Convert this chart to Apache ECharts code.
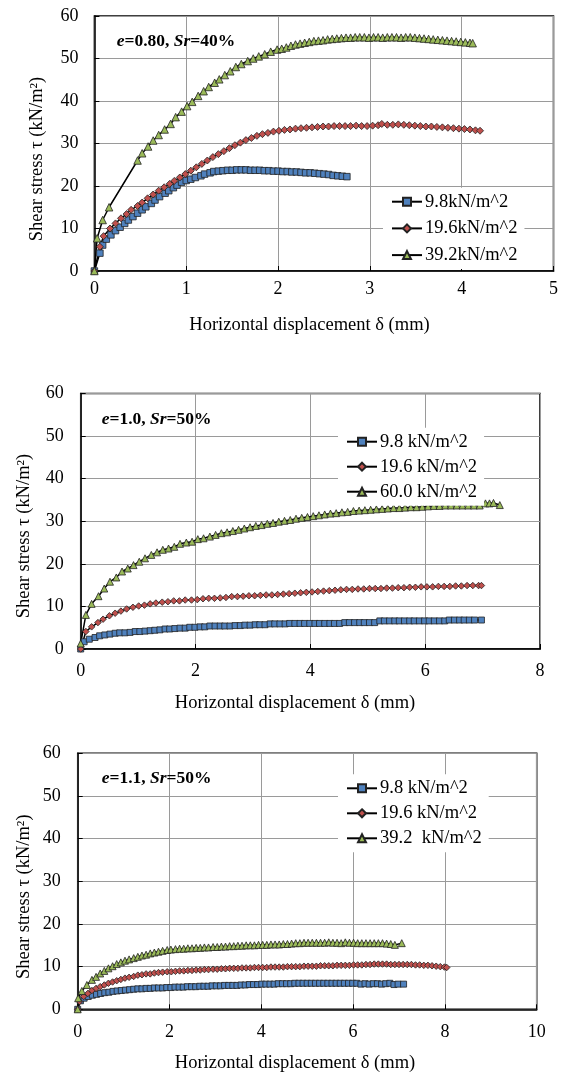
<!DOCTYPE html>
<html>
<head>
<meta charset="utf-8">
<script src="https://cdn.jsdelivr.net/npm/echarts@6/dist/echarts.min.js"></script>
<style>
html,body{margin:0;padding:0;background:#fff;}
#main{width:561px;height:1075px;}
</style>
</head>
<body>
<div id="main"></div>
<script>
// ---------- Data ----------
const c1Names = ['9.8kN/m^2', '19.6kN/m^2', '39.2kN/m^2'];
const c2Names = ['9.8 kN/m^2', '19.6 kN/m^2', '60.0 kN/m^2'];
const c3Names = ['9.8 kN/m^2', '19.6 kN/m^2', '39.2  kN/m^2'];

const c1Notes = ['0.80', '40%'];
const c2Notes = ['1.0', '50%'];
const c3Notes = ['1.1', '50%'];

const yTitle = 'Shear stress \u03c4 (kN/m\u00b2)';
const xTitle = 'Horizontal displacement \u03b4 (mm)';

// Chart 1: e=0.80, Sr=40%
const c1Blue = [[0,0],[0.06,4.2],[0.09,6.1],[0.13,7.5],[0.18,8.5],[0.23,9.5],[0.28,10.3],[0.33,11.2],[0.37,12.0],[0.42,12.8],[0.47,13.6],[0.52,14.4],[0.56,15.1],[0.62,15.9],[0.66,16.7],[0.71,17.5],[0.77,18.3],[0.81,18.9],[0.86,19.6],[0.90,20.2],[0.95,20.9],[1.00,21.3],[1.05,21.6],[1.10,22.0],[1.16,22.4],[1.20,22.8],[1.26,23.1],[1.30,23.4],[1.35,23.5],[1.40,23.6],[1.45,23.7],[1.50,23.7],[1.55,23.8],[1.60,23.8],[1.65,23.8],[1.70,23.7],[1.75,23.7],[1.80,23.7],[1.85,23.6],[1.90,23.6],[1.95,23.5],[2.00,23.5],[2.05,23.4],[2.10,23.4],[2.15,23.3],[2.20,23.3],[2.25,23.2],[2.30,23.1],[2.35,23.1],[2.40,23.0],[2.45,22.9],[2.50,22.8],[2.55,22.7],[2.60,22.5],[2.65,22.4],[2.70,22.3],[2.75,22.2]];
const c1Red = [[0,0],[0.06,5.7],[0.10,8.2],[0.17,10.0],[0.23,11.2],[0.29,12.4],[0.35,13.4],[0.40,14.4],[0.47,15.3],[0.52,16.1],[0.58,17.1],[0.64,18.0],[0.70,18.9],[0.76,19.7],[0.82,20.5],[0.87,21.2],[0.93,22.0],[0.99,22.8],[1.05,23.6],[1.11,24.4],[1.17,25.2],[1.23,26.0],[1.29,26.8],[1.35,27.5],[1.41,28.2],[1.47,28.9],[1.53,29.6],[1.59,30.2],[1.65,30.8],[1.71,31.3],[1.77,31.8],[1.83,32.2],[1.89,32.5],[1.95,32.8],[2.01,33.0],[2.07,33.2],[2.13,33.3],[2.19,33.5],[2.25,33.6],[2.31,33.7],[2.37,33.8],[2.43,33.9],[2.49,34.0],[2.55,34.0],[2.61,34.1],[2.67,34.1],[2.73,34.1],[2.79,34.1],[2.85,34.2],[2.91,34.1],[2.97,34.1],[3.03,34.2],[3.09,34.3],[3.13,34.6],[3.19,34.4],[3.25,34.4],[3.31,34.5],[3.37,34.4],[3.43,34.3],[3.49,34.2],[3.55,34.1],[3.61,34.0],[3.67,34.0],[3.73,33.9],[3.79,33.8],[3.85,33.7],[3.91,33.6],[3.97,33.5],[4.03,33.4],[4.09,33.3],[4.15,33.1],[4.20,33.0]];
const c1Green = [[0,0],[0.03,7.7],[0.09,12.0],[0.16,15.0],[0.47,26.0],[0.52,27.7],[0.585,29.3],[0.64,30.7],[0.70,32.0],[0.765,33.3],[0.83,34.6],[0.885,36.2],[0.95,37.5],[1.01,38.8],[1.065,39.8],[1.13,41.2],[1.19,42.3],[1.245,43.3],[1.31,44.3],[1.36,45.1],[1.42,46.1],[1.48,47.0],[1.54,48.0],[1.60,48.7],[1.67,49.4],[1.73,50.0],[1.79,50.5],[1.855,51.0],[1.92,51.6],[1.99,52.1],[2.04,52.3],[2.09,52.6],[2.14,53.0],[2.19,53.3],[2.24,53.5],[2.29,53.7],[2.34,53.9],[2.39,54.1],[2.44,54.2],[2.49,54.3],[2.54,54.5],[2.59,54.6],[2.64,54.7],[2.69,54.8],[2.74,54.9],[2.79,54.9],[2.84,55.0],[2.89,55.0],[2.94,55.0],[2.99,54.9],[3.04,55.0],[3.09,55.0],[3.14,54.9],[3.19,55.0],[3.24,55.0],[3.29,55.0],[3.34,54.9],[3.39,55.0],[3.44,55.0],[3.49,54.9],[3.54,54.8],[3.59,54.7],[3.64,54.6],[3.69,54.5],[3.74,54.4],[3.79,54.3],[3.84,54.2],[3.89,54.1],[3.94,54.0],[3.99,53.9],[4.04,53.8],[4.09,53.7],[4.12,53.6]];

// Chart 2: e=1.0, Sr=50%
const c2Blue = [[0,0],[0.06,1.7],[0.15,2.3],[0.25,2.7],[0.33,3.1],[0.42,3.3],[0.51,3.5],[0.60,3.7],[0.68,3.8],[0.77,3.8],[0.86,3.9],[0.95,4.1],[1.03,4.1],[1.12,4.2],[1.21,4.3],[1.29,4.4],[1.38,4.5],[1.47,4.7],[1.55,4.7],[1.64,4.8],[1.73,4.9],[1.82,4.9],[1.90,5.1],[1.99,5.1],[2.08,5.2],[2.16,5.2],[2.25,5.4],[2.34,5.4],[2.43,5.4],[2.51,5.4],[2.60,5.4],[2.69,5.5],[2.78,5.5],[2.86,5.6],[2.95,5.6],[3.04,5.7],[3.12,5.7],[3.21,5.7],[3.30,5.9],[3.38,5.9],[3.47,5.9],[3.56,5.9],[3.64,6.0],[3.73,6.0],[3.82,6.0],[3.90,6.0],[3.99,6.0],[4.08,6.0],[4.16,6.0],[4.25,6.0],[4.34,6.0],[4.42,6.0],[4.51,6.0],[4.60,6.2],[4.68,6.2],[4.77,6.2],[4.86,6.2],[4.94,6.2],[5.03,6.2],[5.12,6.2],[5.21,6.6],[5.29,6.6],[5.38,6.6],[5.47,6.6],[5.55,6.6],[5.64,6.6],[5.73,6.6],[5.81,6.6],[5.90,6.6],[5.99,6.6],[6.07,6.6],[6.16,6.6],[6.25,6.6],[6.34,6.6],[6.42,6.8],[6.51,6.8],[6.60,6.8],[6.68,6.8],[6.77,6.8],[6.86,6.8],[6.98,6.8]];
const c2Red = [[0,0],[0.09,4.1],[0.19,5.2],[0.30,6.2],[0.39,7.0],[0.50,7.8],[0.60,8.4],[0.70,8.9],[0.80,9.4],[0.91,9.8],[1.01,10.1],[1.11,10.3],[1.21,10.6],[1.31,10.8],[1.42,11.0],[1.52,11.1],[1.62,11.3],[1.72,11.3],[1.82,11.5],[1.93,11.5],[2.03,11.6],[2.13,11.8],[2.23,11.9],[2.33,11.9],[2.43,12.0],[2.53,12.1],[2.63,12.3],[2.73,12.3],[2.83,12.4],[2.93,12.5],[3.03,12.5],[3.13,12.6],[3.23,12.7],[3.33,12.7],[3.43,12.8],[3.53,12.9],[3.63,13.0],[3.73,13.1],[3.83,13.2],[3.93,13.3],[4.03,13.4],[4.13,13.5],[4.23,13.6],[4.33,13.7],[4.43,13.8],[4.53,13.9],[4.63,14.0],[4.73,14.0],[4.83,14.1],[4.93,14.1],[5.03,14.2],[5.13,14.2],[5.23,14.2],[5.33,14.3],[5.43,14.3],[5.53,14.4],[5.63,14.4],[5.73,14.5],[5.83,14.5],[5.93,14.6],[6.03,14.6],[6.13,14.6],[6.23,14.7],[6.33,14.7],[6.43,14.7],[6.53,14.8],[6.63,14.8],[6.73,14.9],[6.83,14.9],[6.93,14.9],[6.98,14.9]];
const c2Green = [[0,1.3],[0.09,8.0],[0.19,10.6],[0.31,12.4],[0.41,14.2],[0.51,15.8],[0.62,16.8],[0.72,18.2],[0.82,18.9],[0.92,19.7],[1.02,20.5],[1.12,21.3],[1.23,22.1],[1.33,22.7],[1.43,23.3],[1.53,23.6],[1.63,24.0],[1.73,24.7],[1.84,25.0],[1.94,25.2],[2.04,25.8],[2.14,26.0],[2.25,26.4],[2.35,26.8],[2.45,27.2],[2.55,27.4],[2.65,27.7],[2.75,28.0],[2.85,28.3],[2.95,28.6],[3.05,28.9],[3.15,29.1],[3.25,29.4],[3.35,29.6],[3.45,29.9],[3.55,30.1],[3.65,30.3],[3.75,30.6],[3.85,30.8],[3.95,31.0],[4.05,31.2],[4.15,31.4],[4.25,31.6],[4.35,31.8],[4.45,31.9],[4.55,32.1],[4.65,32.2],[4.75,32.4],[4.85,32.5],[4.95,32.6],[5.05,32.7],[5.15,32.8],[5.25,32.9],[5.35,33.0],[5.45,33.1],[5.55,33.1],[5.65,33.2],[5.75,33.3],[5.85,33.3],[5.95,33.4],[6.05,33.5],[6.15,33.6],[6.25,33.6],[6.35,33.7],[6.45,33.7],[6.55,33.7],[6.65,33.7],[6.75,33.7],[6.85,33.7],[6.95,33.7],[7.05,34.2],[7.12,34.2],[7.19,34.3],[7.30,33.8]];

// Chart 3: e=1.1, Sr=50%
const c3Blue = [[0,0],[0.06,2.0],[0.14,2.6],[0.23,3.0],[0.32,3.3],[0.41,3.5],[0.50,3.7],[0.59,3.9],[0.68,4.0],[0.77,4.2],[0.86,4.3],[0.95,4.4],[1.04,4.5],[1.13,4.6],[1.22,4.7],[1.31,4.8],[1.40,4.8],[1.49,4.9],[1.58,4.9],[1.67,5.0],[1.76,5.0],[1.85,5.0],[1.94,5.1],[2.03,5.1],[2.12,5.2],[2.21,5.2],[2.30,5.2],[2.39,5.3],[2.48,5.3],[2.57,5.3],[2.66,5.4],[2.75,5.4],[2.84,5.4],[2.93,5.5],[3.02,5.5],[3.11,5.5],[3.20,5.6],[3.29,5.6],[3.38,5.6],[3.47,5.6],[3.56,5.7],[3.65,5.7],[3.74,5.8],[3.83,5.8],[3.92,5.8],[4.01,5.9],[4.10,5.9],[4.19,5.9],[4.28,5.9],[4.37,6.0],[4.46,6.0],[4.55,6.0],[4.64,6.0],[4.73,6.1],[4.82,6.1],[4.91,6.1],[5.00,6.1],[5.09,6.1],[5.18,6.1],[5.27,6.1],[5.36,6.1],[5.45,6.1],[5.54,6.1],[5.63,6.1],[5.72,6.1],[5.81,6.1],[5.90,6.1],[5.99,6.1],[6.08,6.1],[6.17,5.9],[6.26,6.0],[6.35,5.9],[6.44,6.0],[6.53,6.0],[6.62,5.9],[6.71,6.0],[6.80,6.1],[6.89,5.8],[6.98,5.9],[7.10,5.9]];
const c3Red = [[0,0],[0.04,1.8],[0.13,3.0],[0.22,3.7],[0.31,4.4],[0.40,4.9],[0.49,5.3],[0.58,5.7],[0.67,6.1],[0.76,6.4],[0.85,6.7],[0.94,7.0],[1.03,7.3],[1.12,7.5],[1.22,7.7],[1.31,8.0],[1.40,8.1],[1.49,8.3],[1.58,8.3],[1.67,8.5],[1.76,8.6],[1.85,8.7],[1.95,8.8],[2.04,8.8],[2.13,8.9],[2.22,9.0],[2.31,9.0],[2.40,9.1],[2.49,9.1],[2.58,9.2],[2.67,9.2],[2.76,9.3],[2.85,9.3],[2.95,9.4],[3.04,9.4],[3.13,9.5],[3.22,9.5],[3.31,9.6],[3.40,9.6],[3.49,9.6],[3.58,9.7],[3.67,9.7],[3.76,9.7],[3.85,9.8],[3.94,9.8],[4.03,9.8],[4.12,9.8],[4.21,9.9],[4.30,9.9],[4.39,9.9],[4.48,9.9],[4.57,10.0],[4.66,10.0],[4.75,10.0],[4.84,10.0],[4.93,10.1],[5.02,10.1],[5.11,10.1],[5.20,10.1],[5.29,10.2],[5.38,10.2],[5.47,10.2],[5.56,10.2],[5.65,10.3],[5.74,10.3],[5.83,10.3],[5.92,10.3],[6.01,10.4],[6.10,10.4],[6.19,10.4],[6.28,10.5],[6.37,10.5],[6.46,10.6],[6.55,10.6],[6.64,10.6],[6.73,10.6],[6.82,10.5],[6.91,10.5],[7.00,10.5],[7.09,10.5],[7.18,10.5],[7.27,10.5],[7.36,10.4],[7.45,10.4],[7.54,10.3],[7.63,10.3],[7.72,10.2],[7.81,10.1],[7.90,10.0],[7.99,9.9],[8.04,9.8]];
const c3Green = [[0,0],[0.01,2.6],[0.09,4.3],[0.20,5.7],[0.31,6.9],[0.40,7.6],[0.49,8.4],[0.58,9.0],[0.67,9.6],[0.76,10.1],[0.85,10.6],[0.94,11.0],[1.03,11.4],[1.12,11.7],[1.22,12.0],[1.31,12.3],[1.40,12.6],[1.49,12.8],[1.58,13.1],[1.67,13.3],[1.76,13.5],[1.85,13.7],[1.95,13.9],[2.03,14.0],[2.13,14.1],[2.22,14.2],[2.31,14.2],[2.40,14.3],[2.49,14.3],[2.58,14.4],[2.67,14.4],[2.76,14.5],[2.85,14.5],[2.95,14.6],[3.04,14.6],[3.13,14.7],[3.22,14.7],[3.31,14.8],[3.40,14.8],[3.49,14.9],[3.58,14.9],[3.67,15.0],[3.76,15.0],[3.85,15.0],[3.94,15.1],[4.03,15.1],[4.12,15.1],[4.21,15.2],[4.30,15.2],[4.39,15.2],[4.48,15.3],[4.57,15.3],[4.66,15.4],[4.75,15.5],[4.84,15.5],[4.93,15.6],[5.02,15.6],[5.11,15.6],[5.20,15.6],[5.29,15.6],[5.38,15.6],[5.47,15.7],[5.56,15.6],[5.65,15.6],[5.74,15.5],[5.83,15.7],[5.92,15.6],[6.01,15.6],[6.10,15.5],[6.19,15.5],[6.28,15.5],[6.37,15.5],[6.46,15.5],[6.55,15.5],[6.64,15.5],[6.73,15.4],[6.82,15.3],[6.91,15.1],[7.06,15.5]];

// x-axis ranges per chart
const xMax = [5, 8, 10];
const xStep = [1, 2, 2];

// ---------- Styling ----------
const FONT = '"Liberation Serif", "Times New Roman", serif';
const BLUE = '#4F81BD', RED = '#C0504D', GREEN = '#9BBB59';
const grids = [
  {left: 94.4, top: 16, width: 459.6, height: 255},
  {left: 80.7, top: 393.5, width: 459.3, height: 255.5},
  {left: 77.7, top: 753.3, width: 459, height: 256}
];
const xLabelMargin = [9, 13.5, 13.5];
const yLabelMargin = [16, 17, 17];

const option = {
  animation: false,
  backgroundColor: '#fff',
  textStyle: {fontFamily: FONT},
  grid: grids.map(g => Object.assign({show: true, borderColor: '#000', borderWidth: 1.5, backgroundColor: 'transparent'}, g)),
  xAxis: grids.map((g, i) => ({
    type: 'value', gridIndex: i, min: 0, max: xMax[i], interval: xStep[i],
    axisLine: {show: true, onZero: false, lineStyle: {color: '#000', width: 1.5}},
    axisTick: {show: true, inside: true, length: 5, lineStyle: {color: '#000', width: 1}},
    axisLabel: {color: '#000', fontFamily: FONT, fontSize: 18, margin: xLabelMargin[i]},
    splitLine: {show: true, lineStyle: {color: '#9a9a9a', width: 1}}
  })),
  yAxis: grids.map((g, i) => ({
    type: 'value', gridIndex: i, min: 0, max: 60, interval: 10,
    axisLine: {show: true, onZero: false, lineStyle: {color: '#000', width: 1.5}},
    axisTick: {show: true, inside: true, length: 5, lineStyle: {color: '#000', width: 1}},
    axisLabel: {color: '#000', fontFamily: FONT, fontSize: 18, margin: yLabelMargin[i]},
    splitLine: {show: true, lineStyle: {color: '#9a9a9a', width: 1}}
  })),
  legend: [
    {names: c1Names, left: 383, top: 187.7, gap: 6.7},
    {names: c2Names, left: 338, top: 427.7, gap: 5},
    {names: c3Names, left: 338, top: 774.3, gap: 5}
  ].map(l => ({
    data: l.names, orient: 'vertical', left: l.left, top: l.top,
    itemWidth: 30, itemHeight: 10, itemGap: l.gap,
    padding: [4, 7, 4, 8], backgroundColor: '#fff',
    selectedMode: false,
    textStyle: {color: '#000', fontFamily: FONT, fontSize: 18.5, lineHeight: 20, padding: [0, 0, 0, -2]}
  })),
  series: [],
  graphic: []
};

function addSeries(name, data, idx, symbol, color, size) {
  option.series.push({
    name: name, type: 'line', xAxisIndex: idx, yAxisIndex: idx,
    data: data, symbol: symbol, symbolSize: size, showAllSymbol: true,
    lineStyle: {color: '#000', width: 1.5},
    itemStyle: {color: color, borderColor: '#222', borderWidth: 0.8},
    emphasis: {disabled: true}
  });
}
addSeries(c1Names[0], c1Blue, 0, 'rect', BLUE, 6.5);
addSeries(c1Names[1], c1Red, 0, 'diamond', RED, 7);
addSeries(c1Names[2], c1Green, 0, 'triangle', GREEN, 7.5);
addSeries(c2Names[0], c2Blue, 1, 'rect', BLUE, 6);
addSeries(c2Names[1], c2Red, 1, 'diamond', RED, 6.5);
addSeries(c2Names[2], c2Green, 1, 'triangle', GREEN, 7);
addSeries(c3Names[0], c3Blue, 2, 'rect', BLUE, 6);
addSeries(c3Names[1], c3Red, 2, 'diamond', RED, 6.5);
addSeries(c3Names[2], c3Green, 2, 'triangle', GREEN, 7);

// axis titles
const yTitlePos = [[37.5, 159], [24.5, 536], [24.5, 896.7]];
const xTitlePos = [[309.5, 325], [295, 703.3], [295, 1063]];
yTitlePos.forEach(p => option.graphic.push({
  type: 'text', x: p[0], y: p[1], rotation: Math.PI / 2,
  style: {text: yTitle, fill: '#000', font: '18.5px ' + FONT, textAlign: 'center', textVerticalAlign: 'middle'}
}));
xTitlePos.forEach(p => option.graphic.push({
  type: 'text', x: p[0], y: p[1],
  style: {text: xTitle, fill: '#000', font: '18.5px ' + FONT, textAlign: 'center', textVerticalAlign: 'middle'}
}));

// annotations
const notes = [[c1Notes, 116.7, 41], [c2Notes, 101.7, 419], [c3Notes, 101.7, 778]];
notes.forEach(n => option.graphic.push({
  type: 'text', x: n[1], y: n[2], z: 10,
  style: {
    text: '{i|e}{b|=' + n[0][0] + ', }{i|Sr}{b|=' + n[0][1] + '}',
    textVerticalAlign: 'middle', textAlign: 'left',
    rich: {
      i: {fontFamily: FONT, fontSize: 17.5, fontWeight: 'bold', fontStyle: 'italic', fill: '#000'},
      b: {fontFamily: FONT, fontSize: 17.5, fontWeight: 'bold', fill: '#000'}
    }
  }
}));

const chart = echarts.init(document.getElementById('main'), null, {renderer: 'canvas'});
chart.setOption(option);
</script>
</body>
</html>
